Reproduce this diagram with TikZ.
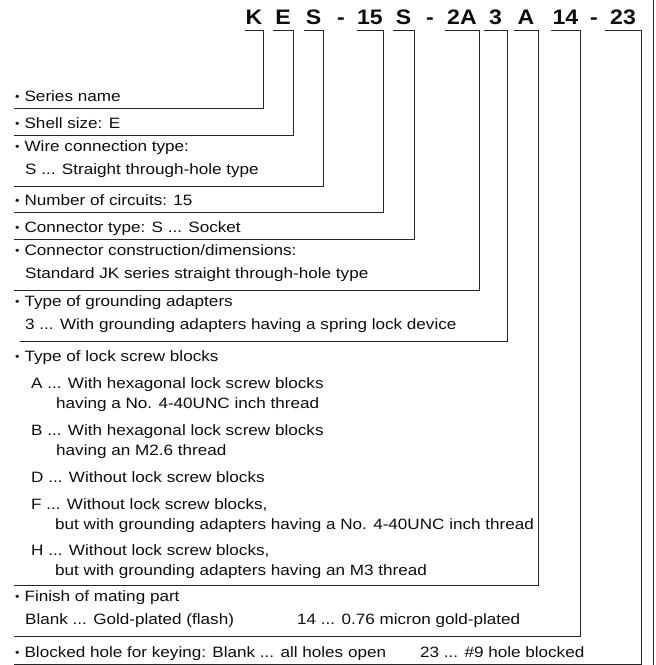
\documentclass[tikz,border=0pt]{standalone}
\usepackage{fontspec}
\setmainfont[FakeStretch=1.14]{Liberation Sans}
\newfontfamily\codefont[FakeStretch=1.1]{Liberation Sans}
\newcommand\bu{{\fontsize{11}{11}\selectfont\raisebox{0.6pt}{•}}\hspace{5pt}}
\begin{document}
\begin{tikzpicture}[x=1pt,y=-1pt,
  txt/.style={anchor=base west, inner sep=0pt, font=\fontsize{15}{17}\selectfont, text=black!95},
  code/.style={anchor=base, inner xsep=0pt, inner ysep=0pt, font=\codefont\bfseries\fontsize{21}{24}\selectfont, text=black!95},
  lead/.style={draw=black!85, line width=0.9pt},
]
\useasboundingbox (0,0) rectangle (656,665);
% code line
\node[code, minimum width=18pt] (cK)  at (254,24) {K};
\node[code, minimum width=20pt] (cE)  at (283,24) {E};
\node[code, minimum width=19pt] (cS1) at (313.5,24) {S};
\node[code] (d1) at (341,24) {-};
\node[code, minimum width=26pt] (c15) at (370,24) {15};
\node[code, minimum width=21pt] (cS2) at (403.5,24) {S};
\node[code] (d2) at (430,24) {-};
\node[code, minimum width=34pt] (c2A) at (462,24) {2A};
\node[code, minimum width=23pt] (c3)  at (495.5,24) {3};
\node[code, minimum width=24pt] (cA)  at (526,24) {A};
\node[code, minimum width=29pt] (c14) at (565.5,24) {14};
\node[code] (d3) at (594,24) {-};
\node[code, minimum width=36pt] (c23) at (623,24) {23};
\coordinate (top) at (0,30);
% underline ends
\coordinate (u1) at (14,108);
\coordinate (u2) at (14,135);
\coordinate (u3) at (14,186);
\coordinate (u4) at (14,212);
\coordinate (u5) at (14,239);
\coordinate (u6) at (14,290);
\coordinate (u7) at (20,341);
\coordinate (u8) at (14,585);
\coordinate (u9) at (14,636);
\coordinate (u10) at (14,664);
% texts
\node[txt] (t1) at (15,101) {\bu Series name};
\node[txt] (t2) at (15,128) {\bu Shell size: E};
\node[txt] (t3a) at (15,151) {\bu Wire connection type:};
\node[txt] (t3b) at (25,174) {S ... Straight through-hole type};
\node[txt] (t4) at (15,205) {\bu Number of circuits: 15};
\node[txt] (t5) at (15,232) {\bu Connector type: S ... Socket};
\node[txt] (t6a) at (15,255) {\bu Connector construction/dimensions:};
\node[txt] (t6b) at (25,278) {Standard JK series straight through-hole type};
\node[txt] (t7a) at (15,306) {\bu Type of grounding adapters};
\node[txt] (t7b) at (25,329) {3 ... With grounding adapters having a spring lock device};
\node[txt] (t8) at (15,361) {\bu Type of lock screw blocks};
\node[txt] (a1) at (31,388) {A ... With hexagonal lock screw blocks};
\node[txt] (a2) at (56,408) {having a No. 4-40UNC inch thread};
\node[txt] (b1) at (31,435) {B ... With hexagonal lock screw blocks};
\node[txt] (b2) at (56,455) {having an M2.6 thread};
\node[txt] (dd) at (31,482) {D ... Without lock screw blocks};
\node[txt] (f1) at (31,509) {F ... Without lock screw blocks,};
\node[txt] (f2) at (55,529) {but with grounding adapters having a No. 4-40UNC inch thread};
\node[txt] (h1) at (31,555) {H ... Without lock screw blocks,};
\node[txt] (h2) at (55,575) {but with grounding adapters having an M3 thread};
\node[txt] (t9a) at (15,601) {\bu Finish of mating part};
\node[txt] (t9b) at (25,624) {Blank ... Gold-plated (flash)};
\node[txt] (t9c) at (297,624) {14 ... 0.76 micron gold-plated};
\node[txt] (t10a) at (15,657) {\bu Blocked hole for keying: Blank ... all holes open};
\node[txt] (t10b) at (420,657) {23 ... \#9 hole blocked};
% leaders
\draw[lead] (cK.west |- top) -- (cK.east |- top) -- (cK.east |- u1) -- (u1);
\draw[lead] (cE.west |- top) -- (cE.east |- top) -- (cE.east |- u2) -- (u2);
\draw[lead] (cS1.west |- top) -- (cS1.east |- top) -- (cS1.east |- u3) -- (u3);
\draw[lead] (c15.west |- top) -- (c15.east |- top) -- (c15.east |- u4) -- (u4);
\draw[lead] (cS2.west |- top) -- (cS2.east |- top) -- (cS2.east |- u5) -- (u5);
\draw[lead] (c2A.west |- top) -- (c2A.east |- top) -- (c2A.east |- u6) -- (u6);
\draw[lead] (c3.west |- top) -- (c3.east |- top) -- (c3.east |- u7) -- (u7);
\draw[lead] (cA.west |- top) -- (cA.east |- top) -- (cA.east |- u8) -- (u8);
\draw[lead] (c14.west |- top) -- (c14.east |- top) -- (c14.east |- u9) -- (u9);
\draw[lead] (c23.west |- top) -- (c23.east |- top) -- (c23.east |- u10) -- (u10);
% right edge
\draw[lead] (653,0) -- (653,665);
\end{tikzpicture}
\end{document}
